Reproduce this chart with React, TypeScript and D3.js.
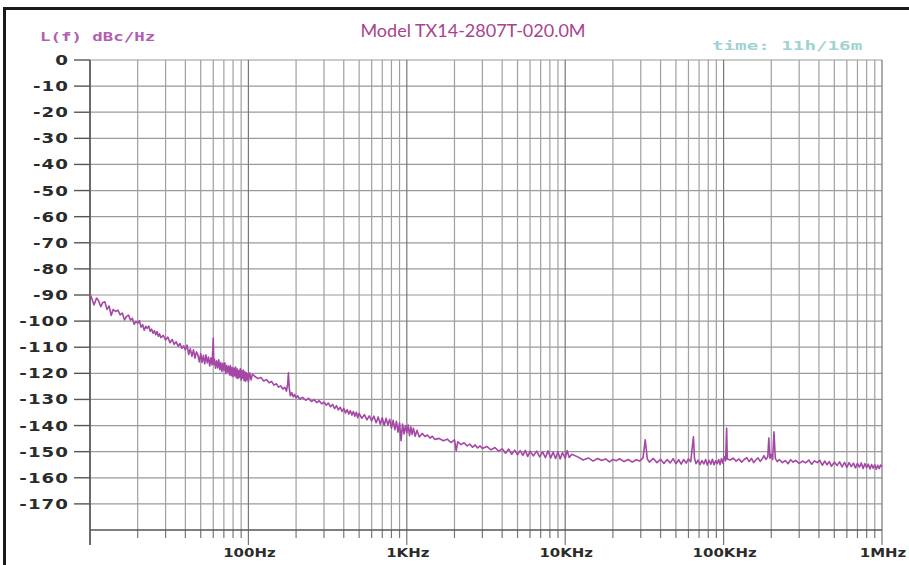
import React from "react";
import * as d3 from "d3";

const TITLE = "Model TX14-2807T-020.0M";
const Y_UNIT = "L(f)  dBc/Hz";
const TIME_LABEL = "time: 11h/16m";
const DB_TICKS = [0, -10, -20, -30, -40, -50, -60, -70, -80, -90, -100, -110, -120, -130, -140, -150, -160, -170];
const X_LABEL_FREQS = [100, 1000, 10000, 100000, 1000000];
const X_LABELS = ["100Hz", "1KHz", "10KHz", "100KHz", "1MHz"];
const DECADES = [10, 100, 1000, 10000, 100000];
const MULTS = [1, 2, 3, 4, 5, 6, 7, 8, 9];

// phase noise trace [Hz, dBc/Hz]
const TRACE: [number, number][] = [
  [10, -89.5], [10.3, -91.5], [10.6, -93.8], [11, -91.2], [11.3, -92.0], [11.7, -94.5], [12, -93.0], [12.4, -92.6],
  [12.8, -95.5], [13.2, -94.2], [13.6, -97.8], [14, -95.6], [14.5, -96.3], [15, -95.8], [15.5, -97.6], [16, -96.9],
  [16.5, -99.5], [17, -98.2], [17.5, -97.7], [18, -99.6], [18.5, -98.9], [19, -101.2], [19.5, -100.1], [20, -100.8],
  [20.5, -99.8], [21, -102.3], [21.5, -101.4], [22, -103.5], [22.5, -102.0], [23, -102.8], [23.5, -101.9], [24, -103.9],
  [24.5, -103.1], [25, -104.6], [25.5, -103.7], [26, -105.2], [26.5, -104.0], [27, -105.8], [27.5, -104.9], [28, -106.3],
  [29, -105.5], [30, -107.2], [31, -106.1], [32, -108.3], [33, -107.0], [34, -108.9], [35, -107.9], [36, -109.6],
  [37, -108.6], [38, -110.4], [39, -109.5], [40, -111.0],
  [41, -109.2], [42, -112.8], [43, -110.6], [44, -113.5], [45, -111.0], [46, -114.2], [47, -111.8], [48, -113.0],
  [49, -115.6], [50, -112.4], [51, -115.8], [52, -113.1], [53, -116.4], [54, -112.9], [55, -116.0], [56, -113.8],
  [57, -117.2], [58, -114.1], [59, -116.8], [60, -106.5], [60.5, -116.5], [61, -114.5], [62, -118.0], [63, -115.2],
  [64, -117.9], [65, -114.8], [66, -118.6], [67, -115.9], [68, -119.3], [69, -116.2], [70, -118.8], [71, -116.0],
  [72, -120.1], [73, -116.9], [74, -119.5], [75, -117.3], [76, -120.6], [77, -117.0], [78, -120.9], [79, -117.8],
  [80, -121.3], [81, -118.0], [82, -121.0], [83, -117.6], [84, -121.8], [85, -118.4], [86, -122.0], [87, -118.9],
  [88, -121.5], [89, -118.2], [90, -122.6], [91, -119.0], [92, -121.9], [93, -118.7], [94, -122.8], [95, -119.4],
  [96, -123.0], [97, -119.8], [98, -122.4], [99, -120.2], [100, -123.3], [102, -119.9], [104, -122.5], [106, -120.4],
  [110, -121.2], [115, -122.0], [120, -121.6], [125, -122.9], [130, -122.4], [135, -123.6], [140, -123.1], [145, -124.5],
  [150, -124.0], [155, -125.3], [160, -124.8], [165, -126.0], [170, -125.4], [174, -126.8], [177, -124.0], [179, -119.8],
  [181, -125.5], [184, -128.6], [188, -127.4], [192, -129.0], [196, -128.1], [200, -129.4], [205, -128.6], [210, -129.8],
  [220, -129.2], [230, -130.3], [240, -129.6], [250, -130.8], [260, -130.1], [270, -131.2], [280, -130.5], [290, -131.7],
  [300, -131.0], [310, -132.2], [320, -131.4], [330, -132.8], [340, -131.9], [350, -133.5], [360, -132.4], [370, -134.0],
  [380, -133.0], [390, -134.6], [400, -133.4], [410, -135.2], [420, -133.9], [430, -135.6], [440, -134.3], [450, -136.0],
  [460, -134.6], [470, -136.4], [480, -134.9], [490, -137.0], [500, -135.3], [520, -137.2], [540, -135.8], [560, -137.8],
  [580, -136.3], [600, -138.2], [620, -136.4], [640, -138.9], [660, -136.7], [680, -139.5], [700, -137.0], [720, -140.0],
  [740, -137.2], [760, -139.8], [780, -137.6], [800, -141.0], [820, -138.0], [840, -141.6], [860, -138.4], [880, -142.5],
  [900, -139.0], [920, -145.8], [940, -139.4], [960, -143.2], [980, -140.0], [1000, -142.8], [1020, -139.8], [1040, -143.9],
  [1060, -140.5], [1080, -143.4], [1100, -141.0], [1130, -144.1], [1160, -141.8], [1200, -144.4],
  [1250, -143.0], [1300, -144.2], [1350, -143.6], [1400, -144.8], [1450, -144.1], [1500, -145.3], [1600, -144.9], [1700, -145.8],
  [1800, -145.2], [1900, -146.5], [2000, -145.5], [2050, -149.6], [2100, -146.2], [2200, -147.3], [2300, -146.6], [2400, -147.8],
  [2500, -147.1], [2600, -148.3], [2700, -147.4], [2800, -148.6], [2900, -147.8], [3000, -148.8],
  [3200, -148.0], [3400, -149.3], [3600, -148.4], [3800, -149.8], [4000, -148.9], [4200, -150.6], [4400, -149.0], [4600, -151.0],
  [4800, -149.4], [5000, -151.2], [5200, -149.6], [5400, -151.4], [5600, -149.5], [5800, -151.8], [6000, -149.9], [6300, -151.6],
  [6600, -149.8], [6900, -152.0], [7200, -150.1], [7500, -152.3], [7800, -149.7], [8100, -152.4], [8400, -150.2], [8700, -152.6],
  [9000, -150.0], [9300, -152.8], [9600, -150.4], [10000, -152.5], [10300, -149.6], [10600, -152.2], [11000, -151.0],
  [12000, -152.0], [13000, -153.2], [14000, -152.4], [15000, -153.6], [16000, -152.6], [17000, -153.4], [18000, -152.8], [19000, -153.9],
  [20000, -153.0], [21000, -153.5], [22000, -152.7], [23500, -153.8], [25000, -153.0], [26500, -154.0], [28000, -153.1], [29500, -153.6],
  [31000, -152.4], [32000, -145.5], [33000, -152.8], [34000, -154.0],
  [36000, -152.6], [38000, -154.2], [40000, -152.9], [42000, -154.5], [44000, -153.0], [46000, -154.3], [48000, -152.7], [50000, -154.6],
  [52000, -153.1], [54000, -154.8], [56000, -153.0], [58000, -154.4], [60000, -152.8], [62000, -153.9], [63500, -148.0], [64500, -144.3],
  [65500, -152.5], [67000, -154.6], [69000, -153.2], [71000, -155.0], [73000, -153.4], [75000, -154.7], [77000, -153.0], [79000, -155.1],
  [81000, -153.3], [83000, -154.8], [85000, -152.9], [87000, -155.0], [89000, -153.5], [91000, -154.6], [93000, -153.0], [95000, -154.9],
  [97000, -152.6], [99000, -154.4], [101000, -152.0], [103000, -153.5], [104500, -141.0], [105500, -152.8],
  [110000, -153.2], [115000, -152.5], [120000, -153.6], [125000, -152.8], [130000, -154.0], [135000, -153.0], [140000, -152.3], [145000, -153.8],
  [150000, -152.6], [155000, -154.2], [160000, -153.1], [165000, -152.4], [170000, -153.7], [175000, -152.9], [180000, -151.5], [185000, -153.0],
  [190000, -152.0], [193000, -144.8], [196000, -152.5], [200000, -151.0], [204000, -153.0], [208000, -142.4], [212000, -152.6], [218000, -153.8],
  [225000, -153.0], [235000, -154.2], [245000, -153.4], [255000, -154.6], [265000, -153.1], [275000, -154.0], [285000, -153.3], [300000, -154.5],
  [315000, -153.6], [330000, -154.3], [345000, -153.2], [360000, -154.8], [375000, -153.5], [390000, -154.2], [405000, -153.3], [420000, -155.2],
  [435000, -153.6], [450000, -155.0], [465000, -153.8], [480000, -155.6], [500000, -154.0], [520000, -155.3], [540000, -153.9], [560000, -155.8],
  [580000, -154.1], [600000, -156.0], [620000, -154.2], [640000, -155.7], [660000, -154.4], [680000, -156.2], [700000, -154.5], [720000, -155.9],
  [740000, -154.3], [760000, -156.4], [780000, -154.6], [800000, -156.1], [820000, -154.8], [840000, -156.6], [860000, -154.9], [880000, -156.3],
  [900000, -155.0], [920000, -156.7], [940000, -155.2], [960000, -156.5], [980000, -155.1], [1000000, -155.8],
];

const W = 909;
const H = 565;
const PL = 90, PR = 882, PT = 60, PB = 530;

export default function App() {
  const x = d3.scaleLog().domain([10, 1000000]).range([PL, PR]);
  const y = d3.scaleLinear().domain([-180, 0]).range([PB, PT]);
  const line = d3.line<[number, number]>().x((d) => x(d[0])).y((d) => y(d[1]));

  const gridFreqs: number[] = [];
  DECADES.forEach((dec) => MULTS.forEach((m) => gridFreqs.push(dec * m)));
  gridFreqs.push(1000000);

  const monoBold = { fontFamily: "'DejaVu Sans Mono', monospace", fontWeight: 700 as const };
  const wideBold = { fontFamily: "'DejaVu Sans', sans-serif", fontWeight: 700 as const };

  return (
    <svg width={W} height={H} style={{ position: "absolute", left: 0, top: 0, background: "#fff" }}>
      <rect x={0} y={0} width={W} height={H} fill="#fff" />
      {/* frame */}
      <path d={`M4.5,${H} V8.5 H${W}`} fill="none" stroke="#1a1a1a" strokeWidth={3} />

      {/* horizontal grid */}
      {DB_TICKS.map((v) => (
        <g key={"h" + v}>
          <line x1={PL} x2={PR} y1={y(v)} y2={y(v)} stroke="#9a9a9a" strokeWidth={1.2} />
          <line x1={74} x2={PL} y1={y(v)} y2={y(v)} stroke="#555" strokeWidth={1.4} />
          <text
            transform={`translate(69,${y(v) + 5}) scale(1.3,1)`}
            textAnchor="end"
            fontSize={14}
            fill="#2b2b2b"
            letterSpacing={0.8}
            {...wideBold}
          >
            {String(v)}
          </text>
        </g>
      ))}

      {/* vertical grid */}
      {gridFreqs.map((f) => {
        const isDec = Math.abs(Math.log10(f) - Math.round(Math.log10(f))) < 1e-9;
        return (
          <g key={"v" + f}>
            <line x1={x(f)} x2={x(f)} y1={PT} y2={PB} stroke={isDec ? "#777" : "#a0a0a0"} strokeWidth={1.2} />
            <line x1={x(f)} x2={x(f)} y1={PB} y2={isDec ? PB + 15 : PB + 8} stroke="#777" strokeWidth={1.2} />
          </g>
        );
      })}

      {/* axes */}
      <line x1={PL} x2={PL} y1={PT} y2={PB + 15} stroke="#555" strokeWidth={1.5} />
      <line x1={PL} x2={PR} y1={PB} y2={PB} stroke="#555" strokeWidth={1.5} />

      {X_LABEL_FREQS.map((f, i) => (
        <text
          key={"xl" + f}
          transform={`translate(${x(f) + 1},557) scale(1.15,1)`}
          textAnchor="middle"
          fontSize={13}
          fill="#2b2b2b"
          {...wideBold}
        >
          {X_LABELS[i]}
        </text>
      ))}

      {/* trace */}
      <path d={line(TRACE) || ""} fill="none" stroke="#a547a5" strokeWidth={1.6} strokeLinejoin="round" />

      {/* labels */}
      <text transform="translate(40,41) scale(1.45,1)" fontSize={12} fill="#b35cb3" {...monoBold}>
        {Y_UNIT}
      </text>
      <text x={473} y={37} textAnchor="middle" fontSize={18} fill="#a8428f" fontFamily="Lato, 'Open Sans', sans-serif">
        {TITLE}
      </text>
      <text transform="translate(712,50) scale(1.6,1)" fontSize={12} fill="#9fd3d3" {...monoBold}>
        {TIME_LABEL}
      </text>
    </svg>
  );
}
